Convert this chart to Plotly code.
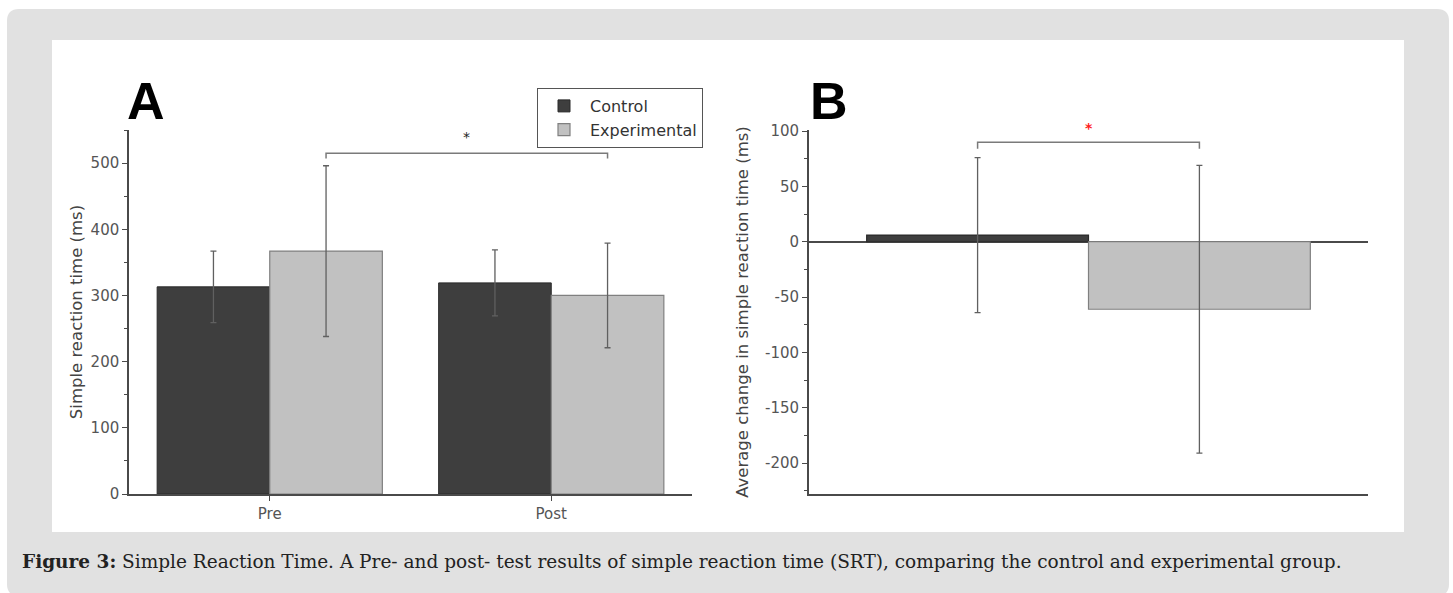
import plotly.graph_objects as go

# ---------------- data ----------------
phases = ["Pre", "Post"]
control_rt = [313, 319]
control_rt_err = [54, 50]
experimental_rt = [367, 300]
experimental_rt_err = [129, 79]

groups = ["Control", "Experimental"]
change_rt = [6, -61]
change_rt_err = [70, 130]

a_tick_vals = [0, 100, 200, 300, 400, 500]
b_tick_vals = [-200, -150, -100, -50, 0, 50, 100]
b_tick_text = [str(v) for v in b_tick_vals]

caption = ("<b>Figure 3:</b> Simple Reaction Time. A Pre- and post- test results of simple reaction "
           "time (SRT), comparing the control and experimental group.")

# ---------------- style ----------------
W, H = 1453, 593
def fx(p): return p / W
def fy(p): return 1 - p / H

DARK = "#3e3e3e"
LIGHT = "#c1c1c1"
AXIS = "#4a4a4a"
ERR = "#606060"
TICKFONT = dict(family="DejaVu Sans", size=15, color="#555555")
TITLEFONT = dict(family="DejaVu Sans", size=16.5, color="#444444")

fig = go.Figure()

fig.add_trace(go.Bar(
    x=phases, y=control_rt, name="Control",
    marker=dict(color=DARK, line=dict(color="#2a2a2a", width=1)),
    error_y=dict(type="data", array=control_rt_err, color=ERR, thickness=1.3, width=3),
    xaxis="x", yaxis="y"))
fig.add_trace(go.Bar(
    x=phases, y=experimental_rt, name="Experimental",
    marker=dict(color=LIGHT, line=dict(color="#808080", width=1.2)),
    error_y=dict(type="data", array=experimental_rt_err, color=ERR, thickness=1.3, width=3),
    xaxis="x", yaxis="y"))

fig.add_trace(go.Bar(
    x=groups, y=change_rt, width=[1, 1], showlegend=False,
    marker=dict(color=[DARK, LIGHT], line=dict(color=["#2a2a2a", "#808080"], width=1.2)),
    error_y=dict(type="data", array=change_rt_err, color=ERR, thickness=1.3, width=3),
    xaxis="x2", yaxis="y2"))

y_dom = [fy(494), fy(130)]

fig.update_layout(
    width=W, height=H,
    margin=dict(l=0, r=0, t=0, b=0, autoexpand=False),
    paper_bgcolor="white", plot_bgcolor="rgba(0,0,0,0)",
    barmode="group", bargap=0.2, bargroupgap=0,
    showlegend=True,
    legend=dict(x=fx(537), y=fy(88), xanchor="left", yanchor="top",
                bgcolor="white", bordercolor="#555555", borderwidth=1,
                font=dict(family="DejaVu Sans", size=16, color="#333333"),
                tracegroupgap=0, itemwidth=42),
    xaxis=dict(domain=[fx(129), fx(692)], type="category", range=[-0.5, 1.5],
               showline=True, linecolor=AXIS, linewidth=1.5,
               ticks="outside", ticklen=5, tickcolor=AXIS, tickfont=TICKFONT,
               showgrid=False, zeroline=False, anchor="y"),
    yaxis=dict(domain=y_dom, range=[0, 550], tickvals=a_tick_vals,
               showline=True, linecolor=AXIS, linewidth=1.5,
               ticks="outside", ticklen=5, tickcolor=AXIS, tickfont=TICKFONT,
               minor=dict(dtick=50, ticks="outside", ticklen=3, tickcolor=AXIS),
               showgrid=False, zeroline=False, anchor="x",
               title=dict(text="Simple reaction time (ms)", standoff=4, font=TITLEFONT)),
    xaxis2=dict(domain=[fx(809), fx(1368)], type="category", range=[-0.76, 1.76],
                showline=True, linecolor=AXIS, linewidth=1.8,
                showticklabels=False, ticks="", showgrid=False, zeroline=False,
                anchor="y2"),
    yaxis2=dict(domain=y_dom, range=[-228, 101], tickvals=b_tick_vals, ticktext=b_tick_text,
                showline=True, linecolor=AXIS, linewidth=1.8,
                ticks="outside", ticklen=5, tickcolor=AXIS, tickfont=TICKFONT,
                minor=dict(dtick=25, ticks="outside", ticklen=3, tickcolor=AXIS),
                showgrid=False, zeroline=True, zerolinecolor=AXIS, zerolinewidth=1.8,
                anchor="x2",
                title=dict(text="Average change in simple reaction time (ms)", standoff=12,
                           font=TITLEFONT)),
)

# background panels
r = 12
x0, x1, y0, y1 = 7, 1449, 9, 596
path = (f"M{fx(x0+r)},{fy(y0)} L{fx(x1-r)},{fy(y0)} Q{fx(x1)},{fy(y0)} {fx(x1)},{fy(y0+r)} "
        f"L{fx(x1)},{fy(y1-r)} Q{fx(x1)},{fy(y1)} {fx(x1-r)},{fy(y1)} "
        f"L{fx(x0+r)},{fy(y1)} Q{fx(x0)},{fy(y1)} {fx(x0)},{fy(y1-r)} "
        f"L{fx(x0)},{fy(y0+r)} Q{fx(x0)},{fy(y0)} {fx(x0+r)},{fy(y0)} Z")
fig.add_shape(type="path", path=path, xref="paper", yref="paper",
              fillcolor="#e1e1e1", line=dict(width=0), layer="below")
fig.add_shape(type="rect", x0=fx(52), x1=fx(1404), y0=fy(532), y1=fy(40),
              xref="paper", yref="paper", fillcolor="white", line=dict(width=0), layer="below")

# significance brackets (data coords)
BR = "#7a7a7a"
a_br_y, a_br_drop = 515, 8
fig.add_shape(type="path", xref="x", yref="y",
              path=f"M0.2,{a_br_y - a_br_drop} L0.2,{a_br_y} L1.2,{a_br_y} L1.2,{a_br_y - a_br_drop}",
              line=dict(color=BR, width=1.5))
fig.add_annotation(x=0.7, y=540, xref="x", yref="y", text="*", showarrow=False,
                   font=dict(family="DejaVu Sans", size=14, color="#222222"))
b_br_y, b_br_drop = 90, 6
fig.add_shape(type="path", xref="x2", yref="y2",
              path=f"M0,{b_br_y - b_br_drop} L0,{b_br_y} L1,{b_br_y} L1,{b_br_y - b_br_drop}",
              line=dict(color=BR, width=1.5))
fig.add_annotation(x=0.5, y=100, xref="x2", yref="y2", yshift=3, text="<b>*</b>", showarrow=False,
                   font=dict(family="DejaVu Sans", size=14, color="#ff2020"))

# panel letters
fig.add_annotation(x=fx(125), y=fy(101), xref="paper", yref="paper", text="<b>A</b>",
                   showarrow=False, xanchor="left", yanchor="middle",
                   font=dict(family="Liberation Sans", size=52, color="black"))
fig.add_annotation(x=fx(808), y=fy(101), xref="paper", yref="paper", text="<b>B</b>",
                   showarrow=False, xanchor="left", yanchor="middle",
                   font=dict(family="Liberation Sans", size=52, color="black"))

# caption
fig.add_annotation(x=fx(20), y=fy(561), xref="paper", yref="paper", text=caption,
                   showarrow=False, xanchor="left", yanchor="middle",
                   font=dict(family="DejaVu Serif", size=18.5, color="#222222"))

fig.write_html("out.html",
               post_script="document.documentElement.style.margin='0';"
                           "document.body.style.margin='0';document.body.style.padding='0';"
                           "document.body.style.overflow='hidden';")
